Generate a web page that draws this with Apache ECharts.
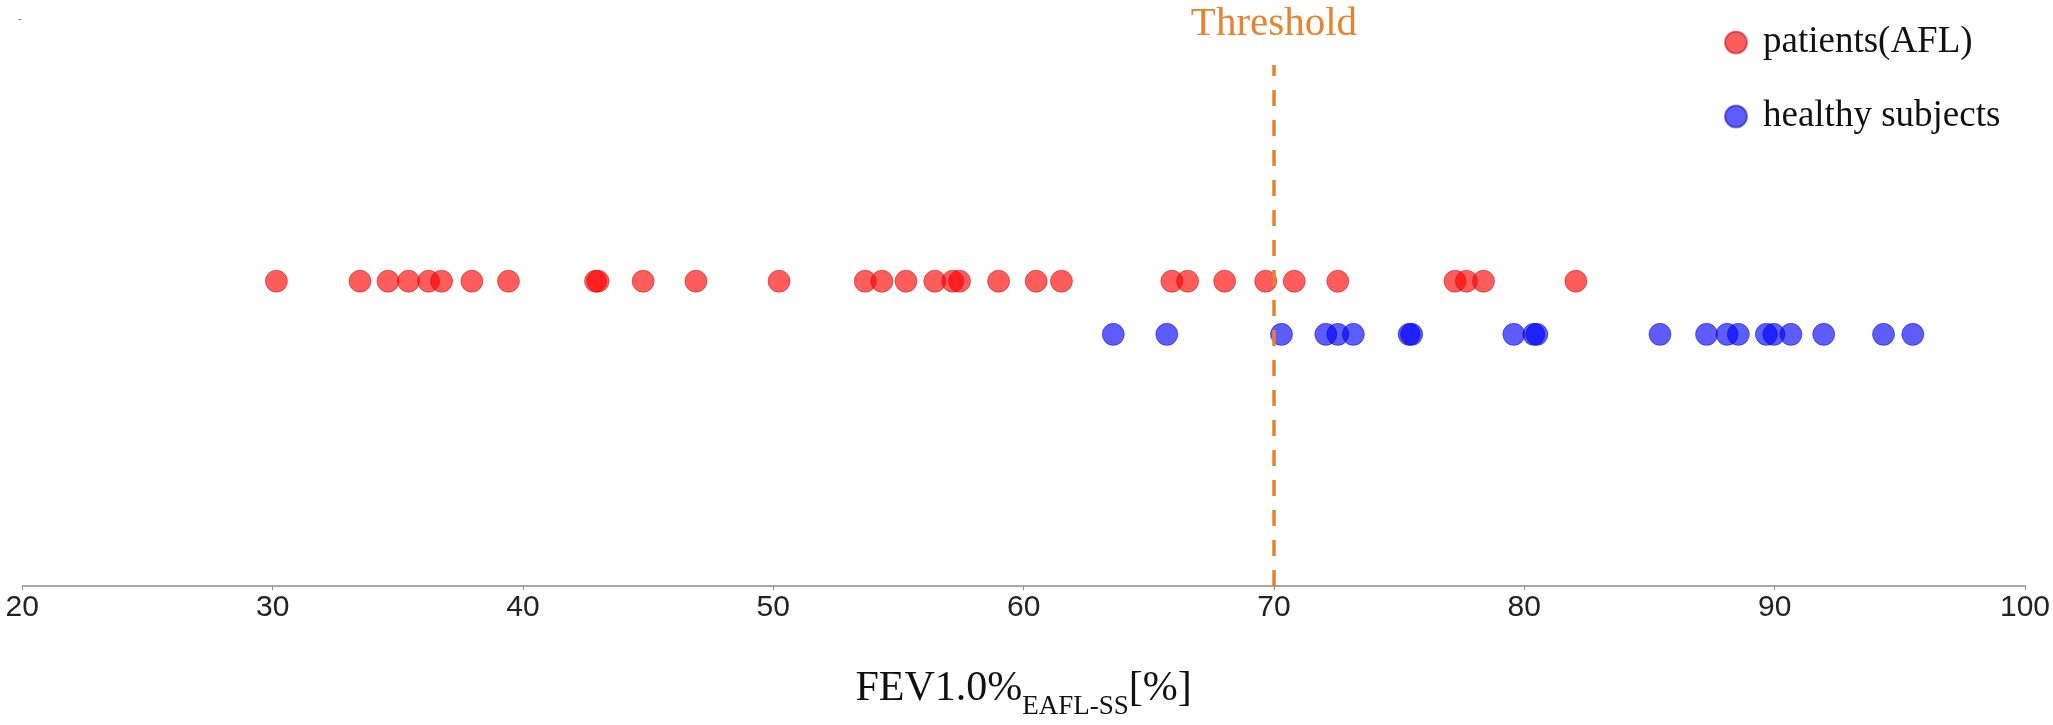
<!DOCTYPE html>
<html>
<head>
<meta charset="utf-8">
<script src="https://cdn.jsdelivr.net/npm/echarts@6/dist/echarts.min.js"></script>
<style>html,body{margin:0;padding:0;background:#fff;overflow:hidden}#c{width:100vw;height:100vh}</style>
</head>
<body>
<div id="c"></div>
<script>
const patientsAFL = [30.15, 33.49, 34.61, 35.43, 36.23, 36.75, 37.96, 39.42, 42.9, 43.0, 44.80, 46.91, 50.23,
  53.67, 54.34, 55.30, 56.45, 57.17, 57.44, 59.0, 60.5, 61.51, 65.92, 66.55, 68.03, 69.67, 70.81, 72.55,
  77.23, 77.69, 78.37, 82.06];
const healthySubjects = [63.58, 65.72, 70.30, 72.07, 72.55, 73.17, 75.4, 75.5, 79.58, 80.38, 80.5,
  85.42, 87.28, 88.10, 88.55, 89.67, 89.97, 90.65, 91.96, 94.35, 95.52];
const seriesNames = ['patients(AFL)', 'healthy subjects'];
const thresholdValue = 70;
const thresholdLabel = 'Threshold';
const xTickValues = [20, 30, 40, 50, 60, 70, 80, 90, 100];
const xAxisTitle = 'FEV1.0%';
const xAxisSub = 'EAFL-SS';
const xAxisUnit = '[%]';

const ROW_RED = 0.585, ROW_BLUE = 0.483;
const serif = '"Liberation Serif", "Times New Roman", serif';
const sans = '"Liberation Sans", Arial, sans-serif';

const el = document.getElementById('c');
const W = el.clientWidth || 2053, H = el.clientHeight || 725;
const sx = W / 2053, sy = H / 725;

const chart = echarts.init(el);
chart.setOption({
  animation: false,
  backgroundColor: '#ffffff',
  grid: { left: 22.3 * sx, right: 28 * sx, top: 65 * sy, bottom: 112 * sy, containLabel: false },
  legend: {
    orient: 'vertical', left: 1724 * sx, top: 24 * sy, padding: 0,
    itemWidth: 44, itemHeight: 22, itemGap: 74 * sy - 37,
    icon: 'circle',
    textStyle: { fontFamily: serif, fontSize: 37, lineHeight: 37, color: '#111' },
    data: seriesNames
  },
  xAxis: {
    type: 'value', min: 20, max: 100, interval: 10,
    axisLine: { show: true, lineStyle: { color: '#8a8a8a', width: 1.5 } },
    axisTick: { show: true, length: 4, lineStyle: { color: '#8a8a8a' } },
    splitLine: { show: false },
    axisLabel: {
      fontFamily: sans, fontSize: 30, color: '#222', margin: 7 * sy,
      formatter: v => xTickValues.indexOf(v) >= 0 ? String(v) : ''
    },
    name: '{m|' + xAxisTitle + '}{s|' + xAxisSub + '}{m|' + xAxisUnit + '}',
    nameLocation: 'middle', nameGap: 80 * sy,
    nameTextStyle: {
      rich: {
        m: { fontFamily: serif, fontSize: 42, color: '#111', verticalAlign: 'bottom', lineHeight: 44 },
        s: { fontFamily: serif, fontSize: 27, color: '#111', verticalAlign: 'bottom', lineHeight: 30, padding: [0, 0, -10, 0] }
      }
    }
  },
  yAxis: { type: 'value', min: 0, max: 1, show: false },
  graphic: [{ type: 'text', left: 18 * sx, top: 14 * sy, style: { text: '-', fontSize: 10, fill: '#555' } }],
  series: [
    {
      name: seriesNames[0], type: 'scatter', symbolSize: 22,
      itemStyle: { color: 'rgba(255,0,0,0.8)', borderColor: 'rgba(180,10,10,0.6)', borderWidth: 1 },
      data: patientsAFL.map(v => [v, ROW_RED]),
      markLine: {
        silent: true, symbol: ['none', 'none'],
        lineStyle: { color: '#E8822E', width: 3.5, type: [16, 14] },
        label: { show: true, position: 'end', formatter: thresholdLabel, distance: 20 * sy,
          fontFamily: serif, fontSize: 41, color: '#E8822E' },
        data: [{ xAxis: thresholdValue }]
      }
    },
    {
      name: seriesNames[1], type: 'scatter', symbolSize: 22,
      itemStyle: { color: 'rgba(0,0,255,0.8)', borderColor: 'rgba(10,10,160,0.6)', borderWidth: 1 },
      data: healthySubjects.map(v => [v, ROW_BLUE])
    }
  ]
});
</script>
</body>
</html>
